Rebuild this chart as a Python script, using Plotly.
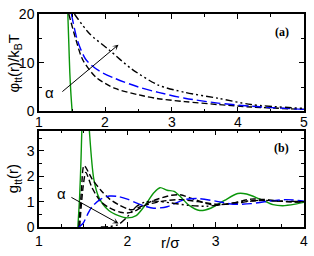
import plotly.graph_objects as go

# ---------------- panel (a): potentials ----------------
r_a_green = [1.435, 1.45, 1.465, 1.48, 1.50]
phi_green = [20, 14, 8, 4, 0]

r_a_k1 = [1.45, 1.56, 1.66, 1.86, 2.15, 2.5, 2.8, 3.2, 3.7, 4.2, 5.0]
phi_k1 = [20, 14.6, 10.6, 7.0, 4.7, 3.4, 2.6, 2.0, 1.4, 0.9, 0.4]

r_a_blue = [1.49, 1.58, 1.71, 1.91, 2.16, 2.5, 2.8, 3.2, 3.7, 4.2, 5.0]
phi_blue = [20, 14.6, 10.6, 8.3, 6.7, 5.0, 3.9, 2.7, 1.7, 1.05, 0.4]

r_a_dd = [1.535, 1.76, 2.06, 2.4, 2.8, 3.2, 3.7, 4.2, 5.0]
phi_dd = [20, 16, 12.6, 8.7, 5.4, 3.9, 2.7, 1.4, 0.6]

top_x_ticks = [1, 2, 3, 4, 5]

# ---------------- panel (b): g(r) ----------------
r_b_green = [1.44, 1.46, 1.475, 1.49, 1.52, 1.55, 1.57, 1.62, 1.68, 1.79, 1.9, 2.0, 2.1,
             2.2, 2.3, 2.37, 2.45, 2.53, 2.6, 2.7, 2.82, 2.95, 3.1, 3.25, 3.35, 3.5,
             3.65, 3.76, 3.9, 4.0]
g_green = [0, 1.2, 2.6, 4.3, 6.0, 5.0, 3.8, 1.9, 1.15, 0.65, 0.45, 0.36, 0.45,
           0.85, 1.35, 1.55, 1.45, 1.4, 1.2, 0.85, 0.65, 0.75, 1.05, 1.32, 1.3, 1.1,
           0.88, 0.84, 0.9, 0.97]

r_b_k1 = [1.45, 1.48, 1.51, 1.6, 1.7, 1.8, 1.9, 2.0, 2.05, 2.15, 2.3, 2.5, 2.6,
          2.75, 2.9, 3.0, 3.2, 3.4, 3.6, 3.8, 4.0]
g_k1 = [0, 1.4, 2.42, 1.9, 1.45, 1.1, 0.88, 0.72, 0.68, 0.8, 1.05, 1.25, 1.27,
        1.1, 0.92, 0.86, 0.95, 1.1, 1.07, 1.0, 0.98]

r_b_k2 = [1.46, 1.5, 1.53, 1.6, 1.7, 1.8, 1.92, 2.0, 2.08, 2.2, 2.4, 2.6, 2.8,
          3.0, 3.2, 3.4, 3.6, 3.8, 4.0]
g_k2 = [0, 1.6, 2.15, 1.55, 1.0, 0.75, 0.58, 0.55, 0.62, 0.85, 1.02, 1.08, 1.0,
        0.9, 0.92, 1.02, 1.05, 1.0, 0.99]

r_b_blue = [1.45, 1.5, 1.55, 1.6, 1.7, 1.8, 1.9, 2.0, 2.1, 2.2, 2.3, 2.45, 2.65,
            2.8, 3.0, 3.2, 3.4, 3.6, 3.8, 4.0]
g_blue = [0, 0.15, 0.5, 0.8, 1.1, 1.22, 1.2, 1.1, 0.95, 0.82, 0.74, 0.8, 1.08,
          1.12, 1.02, 0.9, 0.92, 1.02, 1.08, 1.02]

r_b_dd = [1.7, 1.8, 1.9, 2.0, 2.1, 2.2, 2.3, 2.5, 2.7, 2.9, 3.1, 3.3, 3.5, 3.7, 4.0]
g_dd = [0, 0.02, 0.1, 0.4, 0.8, 0.98, 1.02, 0.95, 0.85, 0.82, 0.9, 1.0, 1.05, 1.02, 1.0]

GREEN = "#0a960a"
BLUE = "#0000ff"
DASHDOT = "7px,3px,2px,3px,2px,3px"

fig = go.Figure()

def add(x, y, color, dash, xa, ya):
    fig.add_trace(go.Scatter(x=x, y=y, mode="lines", xaxis=xa, yaxis=ya,
                             line=dict(color=color, width=1.4, dash=dash, shape="spline", smoothing=0.8),
                             showlegend=False, hoverinfo="skip"))

add(r_a_green, phi_green, GREEN, "solid", "x", "y")
add(r_a_k1, phi_k1, "black", "6px,3px", "x", "y")
add(r_a_blue, phi_blue, BLUE, "10px,4px", "x", "y")
add(r_a_dd, phi_dd, "black", DASHDOT, "x", "y")

add(r_b_green, g_green, GREEN, "solid", "x2", "y2")
add(r_b_k1, g_k1, "black", "6px,3px", "x2", "y2")
add(r_b_k2, g_k2, "black", "6px,3px", "x2", "y2")
add(r_b_blue, g_blue, BLUE, "10px,4px", "x2", "y2")
add(r_b_dd, g_dd, "black", DASHDOT, "x2", "y2")

tickfont = dict(family="Liberation Sans", size=14, color="black")
common = dict(showline=True, linecolor="black", linewidth=1.5, mirror="ticks",
              ticks="inside", ticklen=5, tickwidth=1, tickcolor="black",
              showgrid=False, zeroline=False, tickfont=tickfont,
              ticklabeloverflow="allow")

fig.update_layout(
    width=314, height=256,
    margin=dict(l=39, r=6, t=6, b=29),
    plot_bgcolor="rgba(0,0,0,0)", paper_bgcolor="white",
    xaxis=dict(domain=[0, 1], anchor="y", range=[1, 5], dtick=1, showticklabels=False,
               minor=dict(dtick=0.5, ticklen=3, ticks="inside", tickcolor="black"), **common),
    yaxis=dict(domain=[0.543, 1], anchor="x", range=[0, 20], dtick=10,
               minor=dict(dtick=5, ticklen=3, ticks="inside", tickcolor="black"), **common),
    xaxis2=dict(domain=[0, 1], anchor="y2", range=[1, 4], dtick=1,
                minor=dict(dtick=0.25, ticklen=3, ticks="inside", tickcolor="black"), **common),
    yaxis2=dict(domain=[0, 0.4525], anchor="x2", range=[0, 3.8], dtick=1,
                minor=dict(dtick=0.5, ticklen=3, ticks="inside", tickcolor="black"), **common),
)

# tick labels of the top x axis, placed on the axis scale just below panel (a)
for t in top_x_ticks:
    fig.add_annotation(x=t, y=0.493, xref="x", yref="paper", text=str(t), showarrow=False,
                       xanchor="center", yanchor="middle", font=tickfont)

ann_font = dict(family="Liberation Sans", size=15, color="black")
fig.add_annotation(x=-0.093, y=0.769, xref="paper", yref="paper", textangle=-90,
                   xanchor="center", yanchor="middle",
                   text="φ<sub>tt</sub>(r)/k<sub>B</sub>T", showarrow=False, font=ann_font)
fig.add_annotation(x=-0.093, y=0.226, xref="paper", yref="paper", textangle=-90,
                   xanchor="center", yanchor="middle",
                   text="g<sub>tt</sub>(r)", showarrow=False, font=ann_font)
fig.add_annotation(x=0.498, y=-0.072, xref="paper", yref="paper",
                   xanchor="center", yanchor="middle",
                   text="r/σ", showarrow=False, font=ann_font)

fig.add_annotation(x=4.67, y=16.4, xref="x", yref="y", text="<b>(a)</b>", showarrow=False,
                   font=dict(family="Liberation Serif", size=12, color="black"))
fig.add_annotation(x=3.75, y=3.1, xref="x2", yref="y2", text="<b>(b)</b>", showarrow=False,
                   font=dict(family="Liberation Serif", size=12, color="black"))

# alpha labels and arrows
fig.add_annotation(x=1.16, y=3.8, xref="x", yref="y", text="α", showarrow=False, font=ann_font)
fig.add_annotation(x=2.2, y=13.7, ax=1.33, ay=3.8, xref="x", yref="y", axref="x", ayref="y",
                   text="", showarrow=True, arrowhead=3, arrowsize=1, arrowwidth=1, arrowcolor="black")
fig.add_annotation(x=1.25, y=1.34, xref="x2", yref="y2", text="α", showarrow=False, font=ann_font)
fig.add_annotation(x=1.9, y=0.14, ax=1.35, ay=1.2, xref="x2", yref="y2", axref="x2", ayref="y2",
                   text="", showarrow=True, arrowhead=3, arrowsize=1, arrowwidth=1, arrowcolor="black")

fig.write_html("out.html", config={"displayModeBar": False},
               post_script="document.body.style.margin='0';")
